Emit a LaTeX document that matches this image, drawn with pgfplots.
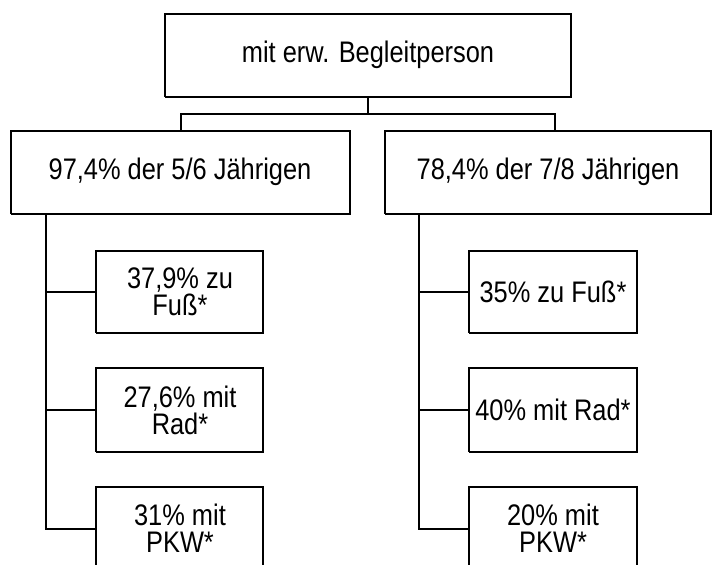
\documentclass[border=0pt]{standalone}
\usepackage{pgfplots}
\pgfplotsset{compat=1.18}
\usepackage{fontspec}
\setmainfont{Liberation Sans}
\begin{document}
\begin{tikzpicture}
\begin{axis}[
  width=712bp, height=565bp, scale only axis,
  xmin=0, xmax=712, ymin=0, ymax=565,
  hide axis, clip=false,
]
% boxes
\addplot[black, line width=1.8bp] coordinates {(165,468) (571,468) (571,551) (165,551) (165,468)};
\addplot[black, line width=1.8bp] coordinates {(11,351) (350,351) (350,434) (11,434) (11,351)};
\addplot[black, line width=1.8bp] coordinates {(385,351) (711,351) (711,434) (385,434) (385,351)};
\addplot[black, line width=1.8bp] coordinates {(96,232) (263,232) (263,314) (96,314) (96,232)};
\addplot[black, line width=1.8bp] coordinates {(96,113) (263,113) (263,197) (96,197) (96,113)};
\addplot[black, line width=1.8bp] coordinates {(96,0) (96,78) (263,78) (263,0)};
\addplot[black, line width=1.8bp] coordinates {(469,232) (637,232) (637,314) (469,314) (469,232)};
\addplot[black, line width=1.8bp] coordinates {(469,113) (637,113) (637,197) (469,197) (469,113)};
\addplot[black, line width=1.8bp] coordinates {(469,0) (469,78) (637,78) (637,0)};
% connectors
\addplot[black, line width=1.8bp] coordinates {(368,468) (368,451)};
\addplot[black, line width=1.8bp] coordinates {(181,434) (181,451) (555,451) (555,434)};
\addplot[black, line width=1.8bp] coordinates {(46,351) (46,36) (96,36)};
\addplot[black, line width=1.8bp] coordinates {(46,273) (96,273)};
\addplot[black, line width=1.8bp] coordinates {(46,155) (96,155)};
\addplot[black, line width=1.8bp] coordinates {(419,351) (419,36) (469,36)};
\addplot[black, line width=1.8bp] coordinates {(419,273) (469,273)};
\addplot[black, line width=1.8bp] coordinates {(419,155) (469,155)};
% texts
\tikzset{lbl/.style={font=\fontsize{25.5}{23}\selectfont, align=center, inner sep=0pt, yscale=1.17, transform shape}}
\node[lbl] at (axis cs:368,510) {mit erw. Begleitperson};
\node[lbl] at (axis cs:180,393) {97,4\% der 5/6 Jährigen};
\node[lbl] at (axis cs:548,393) {78,4\% der 7/8 Jährigen};
\node[lbl] at (axis cs:180,273) {37,9\% zu\\Fuß*};
\node[lbl] at (axis cs:180,155) {27,6\% mit\\Rad*};
\node[lbl] at (axis cs:180,37) {31\% mit\\PKW*};
\node[lbl] at (axis cs:553,273) {35\% zu Fuß*};
\node[lbl] at (axis cs:553,155) {40\% mit Rad*};
\node[lbl] at (axis cs:553,37) {20\% mit\\PKW*};
\end{axis}
\pgfresetboundingbox
\path[use as bounding box] (current axis.south west) rectangle (current axis.north east);
\end{tikzpicture}
\end{document}
